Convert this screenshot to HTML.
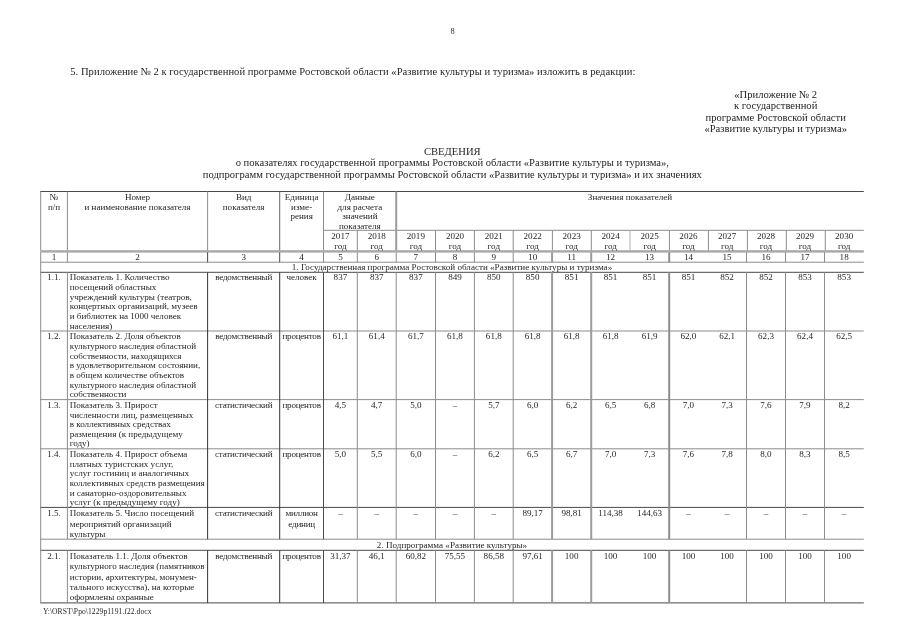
<!DOCTYPE html>
<html><head><meta charset="utf-8"><title>doc</title>
<style>
html,body{margin:0;padding:0;background:#fff}
body{width:905px;height:640px;position:relative;overflow:hidden;font-family:"Liberation Serif",serif;color:#262626}
.t,.b,.f{position:absolute;white-space:nowrap}
.t{font-size:9.08px;line-height:10px}
.b{font-size:10.6px;line-height:12px}
.f{font-size:7.57px;line-height:9px}
.l{position:absolute}
#p{position:absolute;left:0;top:0;width:905px;height:640px;will-change:transform;transform:translateZ(0)}
svg{position:absolute;left:0;top:0}
</style></head><body><div id="p">
<svg width="905" height="640" viewBox="0 0 905 640">
<rect x="40.20" y="191.00" width="823.60" height="1" fill="#4a4a4a"/>
<rect x="323.00" y="229.80" width="540.80" height="1" fill="#8c8c8c"/>
<rect x="40.20" y="250.20" width="823.60" height="2.4" fill="#a8a8a8"/>
<rect x="40.20" y="261.70" width="823.60" height="1" fill="#8c8c8c"/>
<rect x="40.20" y="271.80" width="823.60" height="1" fill="#4a4a4a"/>
<rect x="40.20" y="330.50" width="823.60" height="1" fill="#8c8c8c"/>
<rect x="40.20" y="399.10" width="823.60" height="1" fill="#8c8c8c"/>
<rect x="40.20" y="448.30" width="823.60" height="1" fill="#8c8c8c"/>
<rect x="40.20" y="506.90" width="823.60" height="1" fill="#4a4a4a"/>
<rect x="40.20" y="538.70" width="823.60" height="1" fill="#8c8c8c"/>
<rect x="40.20" y="549.80" width="823.60" height="1" fill="#4a4a4a"/>
<rect x="40.20" y="602.40" width="823.60" height="1" fill="#4a4a4a"/>
<rect x="40.20" y="191.50" width="1" height="58.80" fill="#8c8c8c"/>
<rect x="40.20" y="252.30" width="1" height="9.90" fill="#8c8c8c"/>
<rect x="40.20" y="262.20" width="1" height="340.70" fill="#8c8c8c"/>
<rect x="66.90" y="191.50" width="1" height="58.80" fill="#8c8c8c"/>
<rect x="66.90" y="252.30" width="1" height="9.90" fill="#8c8c8c"/>
<rect x="66.90" y="272.30" width="1" height="266.90" fill="#8c8c8c"/>
<rect x="66.90" y="550.30" width="1" height="52.60" fill="#8c8c8c"/>
<rect x="207.10" y="191.50" width="1" height="58.80" fill="#8c8c8c"/>
<rect x="207.10" y="252.30" width="1" height="9.90" fill="#4a4a4a"/>
<rect x="207.10" y="272.30" width="1" height="266.90" fill="#333"/>
<rect x="207.10" y="550.30" width="1" height="52.60" fill="#333"/>
<rect x="279.20" y="191.50" width="1" height="58.80" fill="#666"/>
<rect x="279.20" y="252.30" width="1" height="9.90" fill="#4a4a4a"/>
<rect x="279.20" y="272.30" width="1" height="266.90" fill="#333"/>
<rect x="279.20" y="550.30" width="1" height="52.60" fill="#333"/>
<rect x="323.00" y="191.50" width="1" height="58.80" fill="#8c8c8c"/>
<rect x="323.00" y="252.30" width="1" height="9.90" fill="#8c8c8c"/>
<rect x="323.00" y="272.30" width="1" height="266.90" fill="#4a4a4a"/>
<rect x="323.00" y="550.30" width="1" height="52.60" fill="#4a4a4a"/>
<rect x="356.80" y="230.30" width="1" height="20.00" fill="#8c8c8c"/>
<rect x="356.80" y="252.30" width="1" height="9.90" fill="#8c8c8c"/>
<rect x="356.80" y="272.30" width="1" height="266.90" fill="#8c8c8c"/>
<rect x="356.80" y="550.30" width="1" height="52.60" fill="#8c8c8c"/>
<rect x="395.20" y="191.50" width="2" height="58.80" fill="#9c9c9c"/>
<rect x="395.70" y="252.30" width="1" height="9.90" fill="#8c8c8c"/>
<rect x="395.70" y="272.30" width="1" height="266.90" fill="#8c8c8c"/>
<rect x="395.70" y="550.30" width="1" height="52.60" fill="#8c8c8c"/>
<rect x="435.00" y="230.30" width="1" height="20.00" fill="#8c8c8c"/>
<rect x="435.00" y="252.30" width="1" height="9.90" fill="#8c8c8c"/>
<rect x="435.00" y="272.30" width="1" height="266.90" fill="#8c8c8c"/>
<rect x="435.00" y="550.30" width="1" height="52.60" fill="#8c8c8c"/>
<rect x="473.90" y="230.30" width="1" height="20.00" fill="#8c8c8c"/>
<rect x="473.90" y="252.30" width="1" height="9.90" fill="#8c8c8c"/>
<rect x="473.90" y="272.30" width="1" height="266.90" fill="#8c8c8c"/>
<rect x="473.90" y="550.30" width="1" height="52.60" fill="#8c8c8c"/>
<rect x="512.70" y="230.30" width="1" height="20.00" fill="#8c8c8c"/>
<rect x="512.70" y="252.30" width="1" height="9.90" fill="#8c8c8c"/>
<rect x="512.70" y="272.30" width="1" height="266.90" fill="#8c8c8c"/>
<rect x="512.70" y="550.30" width="1" height="52.60" fill="#8c8c8c"/>
<rect x="551.90" y="230.30" width="1" height="20.00" fill="#8c8c8c"/>
<rect x="551.10" y="252.30" width="2" height="9.90" fill="#9c9c9c"/>
<rect x="551.10" y="272.30" width="2" height="266.90" fill="#9c9c9c"/>
<rect x="551.10" y="550.30" width="2" height="52.60" fill="#9c9c9c"/>
<rect x="590.80" y="230.30" width="1" height="20.00" fill="#8c8c8c"/>
<rect x="590.20" y="252.30" width="2" height="9.90" fill="#9c9c9c"/>
<rect x="590.20" y="272.30" width="2" height="266.90" fill="#9c9c9c"/>
<rect x="590.20" y="550.30" width="2" height="52.60" fill="#9c9c9c"/>
<rect x="629.50" y="230.30" width="1" height="20.00" fill="#b0b0b0"/>
<rect x="668.90" y="230.30" width="1" height="20.00" fill="#8c8c8c"/>
<rect x="668.20" y="252.30" width="2" height="9.90" fill="#8e8e8e"/>
<rect x="668.20" y="272.30" width="2" height="266.90" fill="#8e8e8e"/>
<rect x="668.20" y="550.30" width="2" height="52.60" fill="#8e8e8e"/>
<rect x="707.90" y="230.30" width="1" height="20.00" fill="#8c8c8c"/>
<rect x="746.90" y="230.30" width="1" height="20.00" fill="#8c8c8c"/>
<rect x="746.00" y="252.30" width="1" height="9.90" fill="#8c8c8c"/>
<rect x="746.00" y="272.30" width="1" height="266.90" fill="#8c8c8c"/>
<rect x="746.00" y="550.30" width="1" height="52.60" fill="#8c8c8c"/>
<rect x="785.80" y="230.30" width="1" height="20.00" fill="#8c8c8c"/>
<rect x="785.00" y="252.30" width="1" height="9.90" fill="#8c8c8c"/>
<rect x="785.00" y="272.30" width="1" height="266.90" fill="#8c8c8c"/>
<rect x="785.00" y="550.30" width="1" height="52.60" fill="#8c8c8c"/>
<rect x="824.80" y="230.30" width="1" height="20.00" fill="#8c8c8c"/>
<rect x="824.00" y="252.30" width="1" height="9.90" fill="#8c8c8c"/>
<rect x="824.00" y="272.30" width="1" height="266.90" fill="#8c8c8c"/>
<rect x="824.00" y="550.30" width="1" height="52.60" fill="#8c8c8c"/>
</svg>
<div class="f" style="left:-47.50px;top:27px;width:1000px;text-align:center;font-size:8.3px;">8</div>
<div class="b" style="left:70.30px;top:66px;letter-spacing:0.02px;">5. Приложение № 2 к государственной программе Ростовской области «Развитие культуры и туризма» изложить в редакции:</div>
<div class="b" style="left:275.70px;top:89px;width:1000px;text-align:center;">«Приложение № 2</div>
<div class="b" style="left:275.70px;top:100px;width:1000px;text-align:center;">к государственной</div>
<div class="b" style="left:275.70px;top:112px;width:1000px;text-align:center;">программе Ростовской области</div>
<div class="b" style="left:275.70px;top:123px;width:1000px;text-align:center;">«Развитие культуры и туризма»</div>
<div class="b" style="left:-47.70px;top:146px;width:1000px;text-align:center;">СВЕДЕНИЯ</div>
<div class="b" style="left:-47.70px;top:157px;width:1000px;text-align:center;">о показателях государственной программы Ростовской области «Развитие культуры и туризма»,</div>
<div class="b" style="left:-47.70px;top:169px;width:1000px;text-align:center;">подпрограмм государственной программы Ростовской области «Развитие культуры и туризма» и их значениях</div>
<div class="t" style="left:-445.95px;top:192px;width:1000px;text-align:center;">№</div>
<div class="t" style="left:-445.95px;top:202px;width:1000px;text-align:center;">п/п</div>
<div class="t" style="left:-362.50px;top:192px;width:1000px;text-align:center;">Номер</div>
<div class="t" style="left:-362.50px;top:202px;width:1000px;text-align:center;">и наименование показателя</div>
<div class="t" style="left:-256.35px;top:192px;width:1000px;text-align:center;">Вид</div>
<div class="t" style="left:-256.35px;top:202px;width:1000px;text-align:center;">показателя</div>
<div class="t" style="left:-198.40px;top:192px;width:1000px;text-align:center;">Единица</div>
<div class="t" style="left:-198.40px;top:202px;width:1000px;text-align:center;">изме-</div>
<div class="t" style="left:-198.40px;top:211px;width:1000px;text-align:center;">рения</div>
<div class="t" style="left:-140.15px;top:192px;width:1000px;text-align:center;">Данные</div>
<div class="t" style="left:-140.15px;top:202px;width:1000px;text-align:center;">для расчета</div>
<div class="t" style="left:-140.15px;top:211px;width:1000px;text-align:center;">значений</div>
<div class="t" style="left:-140.15px;top:221px;width:1000px;text-align:center;">показателя</div>
<div class="t" style="left:130.00px;top:192px;width:1000px;text-align:center;">Значения показателей</div>
<div class="t" style="left:-159.60px;top:231px;width:1000px;text-align:center;">2017</div>
<div class="t" style="left:-159.60px;top:241px;width:1000px;text-align:center;">год</div>
<div class="t" style="left:-123.25px;top:231px;width:1000px;text-align:center;">2018</div>
<div class="t" style="left:-123.25px;top:241px;width:1000px;text-align:center;">год</div>
<div class="t" style="left:-84.15px;top:231px;width:1000px;text-align:center;">2019</div>
<div class="t" style="left:-84.15px;top:241px;width:1000px;text-align:center;">год</div>
<div class="t" style="left:-45.05px;top:231px;width:1000px;text-align:center;">2020</div>
<div class="t" style="left:-45.05px;top:241px;width:1000px;text-align:center;">год</div>
<div class="t" style="left:-6.20px;top:231px;width:1000px;text-align:center;">2021</div>
<div class="t" style="left:-6.20px;top:241px;width:1000px;text-align:center;">год</div>
<div class="t" style="left:32.65px;top:231px;width:1000px;text-align:center;">2022</div>
<div class="t" style="left:32.65px;top:241px;width:1000px;text-align:center;">год</div>
<div class="t" style="left:71.65px;top:231px;width:1000px;text-align:center;">2023</div>
<div class="t" style="left:71.65px;top:241px;width:1000px;text-align:center;">год</div>
<div class="t" style="left:110.60px;top:231px;width:1000px;text-align:center;">2024</div>
<div class="t" style="left:110.60px;top:241px;width:1000px;text-align:center;">год</div>
<div class="t" style="left:149.60px;top:231px;width:1000px;text-align:center;">2025</div>
<div class="t" style="left:149.60px;top:241px;width:1000px;text-align:center;">год</div>
<div class="t" style="left:188.45px;top:231px;width:1000px;text-align:center;">2026</div>
<div class="t" style="left:188.45px;top:241px;width:1000px;text-align:center;">год</div>
<div class="t" style="left:227.10px;top:231px;width:1000px;text-align:center;">2027</div>
<div class="t" style="left:227.10px;top:241px;width:1000px;text-align:center;">год</div>
<div class="t" style="left:266.00px;top:231px;width:1000px;text-align:center;">2028</div>
<div class="t" style="left:266.00px;top:241px;width:1000px;text-align:center;">год</div>
<div class="t" style="left:305.00px;top:231px;width:1000px;text-align:center;">2029</div>
<div class="t" style="left:305.00px;top:241px;width:1000px;text-align:center;">год</div>
<div class="t" style="left:344.15px;top:231px;width:1000px;text-align:center;">2030</div>
<div class="t" style="left:344.15px;top:241px;width:1000px;text-align:center;">год</div>
<div class="t" style="left:-445.95px;top:252px;width:1000px;text-align:center;">1</div>
<div class="t" style="left:-362.50px;top:252px;width:1000px;text-align:center;">2</div>
<div class="t" style="left:-256.35px;top:252px;width:1000px;text-align:center;">3</div>
<div class="t" style="left:-198.40px;top:252px;width:1000px;text-align:center;">4</div>
<div class="t" style="left:-159.60px;top:252px;width:1000px;text-align:center;">5</div>
<div class="t" style="left:-123.25px;top:252px;width:1000px;text-align:center;">6</div>
<div class="t" style="left:-84.15px;top:252px;width:1000px;text-align:center;">7</div>
<div class="t" style="left:-45.05px;top:252px;width:1000px;text-align:center;">8</div>
<div class="t" style="left:-6.20px;top:252px;width:1000px;text-align:center;">9</div>
<div class="t" style="left:32.65px;top:252px;width:1000px;text-align:center;">10</div>
<div class="t" style="left:71.65px;top:252px;width:1000px;text-align:center;">11</div>
<div class="t" style="left:110.60px;top:252px;width:1000px;text-align:center;">12</div>
<div class="t" style="left:149.60px;top:252px;width:1000px;text-align:center;">13</div>
<div class="t" style="left:188.45px;top:252px;width:1000px;text-align:center;">14</div>
<div class="t" style="left:227.10px;top:252px;width:1000px;text-align:center;">15</div>
<div class="t" style="left:266.00px;top:252px;width:1000px;text-align:center;">16</div>
<div class="t" style="left:305.00px;top:252px;width:1000px;text-align:center;">17</div>
<div class="t" style="left:344.15px;top:252px;width:1000px;text-align:center;">18</div>
<div class="t" style="left:-48.00px;top:262px;width:1000px;text-align:center;">1. Государственная программа Ростовской области «Развитие культуры и туризма»</div>
<div class="t" style="left:-48.00px;top:540px;width:1000px;text-align:center;">2. Подпрограмма «Развитие культуры»</div>
<div class="t" style="left:-445.95px;top:272px;width:1000px;text-align:center;">1.1.</div>
<div class="t" style="left:69.70px;top:272px;">Показатель 1. Количество</div>
<div class="t" style="left:69.70px;top:282px;">посещений областных</div>
<div class="t" style="left:69.70px;top:292px;">учреждений культуры (театров,</div>
<div class="t" style="left:69.70px;top:301px;">концертных организаций, музеев</div>
<div class="t" style="left:69.70px;top:311px;">и библиотек на 1000 человек</div>
<div class="t" style="left:69.70px;top:321px;">населения)</div>
<div class="t" style="left:-256.35px;top:272px;width:1000px;text-align:center;letter-spacing:-0.23px;">ведомственный</div>
<div class="t" style="left:-198.40px;top:272px;width:1000px;text-align:center;">человек</div>
<div class="t" style="left:-159.60px;top:272px;width:1000px;text-align:center;">837</div>
<div class="t" style="left:-123.25px;top:272px;width:1000px;text-align:center;">837</div>
<div class="t" style="left:-84.15px;top:272px;width:1000px;text-align:center;">837</div>
<div class="t" style="left:-45.05px;top:272px;width:1000px;text-align:center;">849</div>
<div class="t" style="left:-6.20px;top:272px;width:1000px;text-align:center;">850</div>
<div class="t" style="left:32.65px;top:272px;width:1000px;text-align:center;">850</div>
<div class="t" style="left:71.65px;top:272px;width:1000px;text-align:center;">851</div>
<div class="t" style="left:110.60px;top:272px;width:1000px;text-align:center;">851</div>
<div class="t" style="left:149.60px;top:272px;width:1000px;text-align:center;">851</div>
<div class="t" style="left:188.45px;top:272px;width:1000px;text-align:center;">851</div>
<div class="t" style="left:227.10px;top:272px;width:1000px;text-align:center;">852</div>
<div class="t" style="left:266.00px;top:272px;width:1000px;text-align:center;">852</div>
<div class="t" style="left:305.00px;top:272px;width:1000px;text-align:center;">853</div>
<div class="t" style="left:344.15px;top:272px;width:1000px;text-align:center;">853</div>
<div class="t" style="left:-445.95px;top:331px;width:1000px;text-align:center;">1.2.</div>
<div class="t" style="left:69.70px;top:331px;">Показатель 2. Доля объектов</div>
<div class="t" style="left:69.70px;top:341px;">культурного наследия областной</div>
<div class="t" style="left:69.70px;top:351px;">собственности, находящихся</div>
<div class="t" style="left:69.70px;top:360px;">в удовлетворительном состоянии,</div>
<div class="t" style="left:69.70px;top:370px;">в общем количестве объектов</div>
<div class="t" style="left:69.70px;top:380px;">культурного наследия областной</div>
<div class="t" style="left:69.70px;top:389px;">собственности</div>
<div class="t" style="left:-256.35px;top:331px;width:1000px;text-align:center;letter-spacing:-0.23px;">ведомственный</div>
<div class="t" style="left:-198.40px;top:331px;width:1000px;text-align:center;letter-spacing:-0.24px;">процентов</div>
<div class="t" style="left:-159.60px;top:331px;width:1000px;text-align:center;">61,1</div>
<div class="t" style="left:-123.25px;top:331px;width:1000px;text-align:center;">61,4</div>
<div class="t" style="left:-84.15px;top:331px;width:1000px;text-align:center;">61,7</div>
<div class="t" style="left:-45.05px;top:331px;width:1000px;text-align:center;">61,8</div>
<div class="t" style="left:-6.20px;top:331px;width:1000px;text-align:center;">61,8</div>
<div class="t" style="left:32.65px;top:331px;width:1000px;text-align:center;">61,8</div>
<div class="t" style="left:71.65px;top:331px;width:1000px;text-align:center;">61,8</div>
<div class="t" style="left:110.60px;top:331px;width:1000px;text-align:center;">61,8</div>
<div class="t" style="left:149.60px;top:331px;width:1000px;text-align:center;">61,9</div>
<div class="t" style="left:188.45px;top:331px;width:1000px;text-align:center;">62,0</div>
<div class="t" style="left:227.10px;top:331px;width:1000px;text-align:center;">62,1</div>
<div class="t" style="left:266.00px;top:331px;width:1000px;text-align:center;">62,3</div>
<div class="t" style="left:305.00px;top:331px;width:1000px;text-align:center;">62,4</div>
<div class="t" style="left:344.15px;top:331px;width:1000px;text-align:center;">62,5</div>
<div class="t" style="left:-445.95px;top:400px;width:1000px;text-align:center;">1.3.</div>
<div class="t" style="left:69.70px;top:400px;">Показатель 3. Прирост</div>
<div class="t" style="left:69.70px;top:410px;">численности лиц, размещенных</div>
<div class="t" style="left:69.70px;top:419px;">в коллективных средствах</div>
<div class="t" style="left:69.70px;top:429px;">размещения (к предыдущему</div>
<div class="t" style="left:69.70px;top:438px;">году)</div>
<div class="t" style="left:-256.35px;top:400px;width:1000px;text-align:center;letter-spacing:-0.23px;">статистический</div>
<div class="t" style="left:-198.40px;top:400px;width:1000px;text-align:center;letter-spacing:-0.24px;">процентов</div>
<div class="t" style="left:-159.60px;top:400px;width:1000px;text-align:center;">4,5</div>
<div class="t" style="left:-123.25px;top:400px;width:1000px;text-align:center;">4,7</div>
<div class="t" style="left:-84.15px;top:400px;width:1000px;text-align:center;">5,0</div>
<div class="t" style="left:-45.05px;top:400px;width:1000px;text-align:center;">–</div>
<div class="t" style="left:-6.20px;top:400px;width:1000px;text-align:center;">5,7</div>
<div class="t" style="left:32.65px;top:400px;width:1000px;text-align:center;">6,0</div>
<div class="t" style="left:71.65px;top:400px;width:1000px;text-align:center;">6,2</div>
<div class="t" style="left:110.60px;top:400px;width:1000px;text-align:center;">6,5</div>
<div class="t" style="left:149.60px;top:400px;width:1000px;text-align:center;">6,8</div>
<div class="t" style="left:188.45px;top:400px;width:1000px;text-align:center;">7,0</div>
<div class="t" style="left:227.10px;top:400px;width:1000px;text-align:center;">7,3</div>
<div class="t" style="left:266.00px;top:400px;width:1000px;text-align:center;">7,6</div>
<div class="t" style="left:305.00px;top:400px;width:1000px;text-align:center;">7,9</div>
<div class="t" style="left:344.15px;top:400px;width:1000px;text-align:center;">8,2</div>
<div class="t" style="left:-445.95px;top:449px;width:1000px;text-align:center;">1.4.</div>
<div class="t" style="left:69.70px;top:449px;">Показатель 4. Прирост объема</div>
<div class="t" style="left:69.70px;top:459px;">платных туристских услуг,</div>
<div class="t" style="left:69.70px;top:468px;">услуг гостиниц и аналогичных</div>
<div class="t" style="left:69.70px;top:478px;">коллективных средств размещения</div>
<div class="t" style="left:69.70px;top:488px;">и санаторно-оздоровительных</div>
<div class="t" style="left:69.70px;top:497px;">услуг (к предыдущему году)</div>
<div class="t" style="left:-256.35px;top:449px;width:1000px;text-align:center;letter-spacing:-0.23px;">статистический</div>
<div class="t" style="left:-198.40px;top:449px;width:1000px;text-align:center;letter-spacing:-0.24px;">процентов</div>
<div class="t" style="left:-159.60px;top:449px;width:1000px;text-align:center;">5,0</div>
<div class="t" style="left:-123.25px;top:449px;width:1000px;text-align:center;">5,5</div>
<div class="t" style="left:-84.15px;top:449px;width:1000px;text-align:center;">6,0</div>
<div class="t" style="left:-45.05px;top:449px;width:1000px;text-align:center;">–</div>
<div class="t" style="left:-6.20px;top:449px;width:1000px;text-align:center;">6,2</div>
<div class="t" style="left:32.65px;top:449px;width:1000px;text-align:center;">6,5</div>
<div class="t" style="left:71.65px;top:449px;width:1000px;text-align:center;">6,7</div>
<div class="t" style="left:110.60px;top:449px;width:1000px;text-align:center;">7,0</div>
<div class="t" style="left:149.60px;top:449px;width:1000px;text-align:center;">7,3</div>
<div class="t" style="left:188.45px;top:449px;width:1000px;text-align:center;">7,6</div>
<div class="t" style="left:227.10px;top:449px;width:1000px;text-align:center;">7,8</div>
<div class="t" style="left:266.00px;top:449px;width:1000px;text-align:center;">8,0</div>
<div class="t" style="left:305.00px;top:449px;width:1000px;text-align:center;">8,3</div>
<div class="t" style="left:344.15px;top:449px;width:1000px;text-align:center;">8,5</div>
<div class="t" style="left:-445.95px;top:508px;width:1000px;text-align:center;">1.5.</div>
<div class="t" style="left:69.70px;top:508px;">Показатель 5. Число посещений</div>
<div class="t" style="left:69.70px;top:519px;">мероприятий организаций</div>
<div class="t" style="left:69.70px;top:529px;">культуры</div>
<div class="t" style="left:-256.35px;top:508px;width:1000px;text-align:center;letter-spacing:-0.23px;">статистический</div>
<div class="t" style="left:-198.40px;top:508px;width:1000px;text-align:center;letter-spacing:-0.24px;">миллион</div>
<div class="t" style="left:-198.40px;top:519px;width:1000px;text-align:center;letter-spacing:-0.24px;">единиц</div>
<div class="t" style="left:-159.60px;top:508px;width:1000px;text-align:center;">–</div>
<div class="t" style="left:-123.25px;top:508px;width:1000px;text-align:center;">–</div>
<div class="t" style="left:-84.15px;top:508px;width:1000px;text-align:center;">–</div>
<div class="t" style="left:-45.05px;top:508px;width:1000px;text-align:center;">–</div>
<div class="t" style="left:-6.20px;top:508px;width:1000px;text-align:center;">–</div>
<div class="t" style="left:32.65px;top:508px;width:1000px;text-align:center;">89,17</div>
<div class="t" style="left:71.65px;top:508px;width:1000px;text-align:center;">98,81</div>
<div class="t" style="left:110.60px;top:508px;width:1000px;text-align:center;">114,38</div>
<div class="t" style="left:149.60px;top:508px;width:1000px;text-align:center;">144,63</div>
<div class="t" style="left:188.45px;top:508px;width:1000px;text-align:center;">–</div>
<div class="t" style="left:227.10px;top:508px;width:1000px;text-align:center;">–</div>
<div class="t" style="left:266.00px;top:508px;width:1000px;text-align:center;">–</div>
<div class="t" style="left:305.00px;top:508px;width:1000px;text-align:center;">–</div>
<div class="t" style="left:344.15px;top:508px;width:1000px;text-align:center;">–</div>
<div class="t" style="left:-445.95px;top:551px;width:1000px;text-align:center;">2.1.</div>
<div class="t" style="left:69.70px;top:551px;">Показатель 1.1. Доля объектов</div>
<div class="t" style="left:69.70px;top:561px;">культурного наследия (памятников</div>
<div class="t" style="left:69.70px;top:572px;">истории, архитектуры, монумен-</div>
<div class="t" style="left:69.70px;top:582px;">тального искусства), на которые</div>
<div class="t" style="left:69.70px;top:592px;">оформлены охранные</div>
<div class="t" style="left:-256.35px;top:551px;width:1000px;text-align:center;letter-spacing:-0.23px;">ведомственный</div>
<div class="t" style="left:-198.40px;top:551px;width:1000px;text-align:center;letter-spacing:-0.24px;">процентов</div>
<div class="t" style="left:-159.60px;top:551px;width:1000px;text-align:center;">31,37</div>
<div class="t" style="left:-123.25px;top:551px;width:1000px;text-align:center;">46,1</div>
<div class="t" style="left:-84.15px;top:551px;width:1000px;text-align:center;">60,82</div>
<div class="t" style="left:-45.05px;top:551px;width:1000px;text-align:center;">75,55</div>
<div class="t" style="left:-6.20px;top:551px;width:1000px;text-align:center;">86,58</div>
<div class="t" style="left:32.65px;top:551px;width:1000px;text-align:center;">97,61</div>
<div class="t" style="left:71.65px;top:551px;width:1000px;text-align:center;">100</div>
<div class="t" style="left:110.60px;top:551px;width:1000px;text-align:center;">100</div>
<div class="t" style="left:149.60px;top:551px;width:1000px;text-align:center;">100</div>
<div class="t" style="left:188.45px;top:551px;width:1000px;text-align:center;">100</div>
<div class="t" style="left:227.10px;top:551px;width:1000px;text-align:center;">100</div>
<div class="t" style="left:266.00px;top:551px;width:1000px;text-align:center;">100</div>
<div class="t" style="left:305.00px;top:551px;width:1000px;text-align:center;">100</div>
<div class="t" style="left:344.15px;top:551px;width:1000px;text-align:center;">100</div>
<div class="f" style="left:42.90px;top:607px;letter-spacing:0.07px;">Y:\ORST\Ppo\1229p1191.f22.docx</div>
</div></body></html>
